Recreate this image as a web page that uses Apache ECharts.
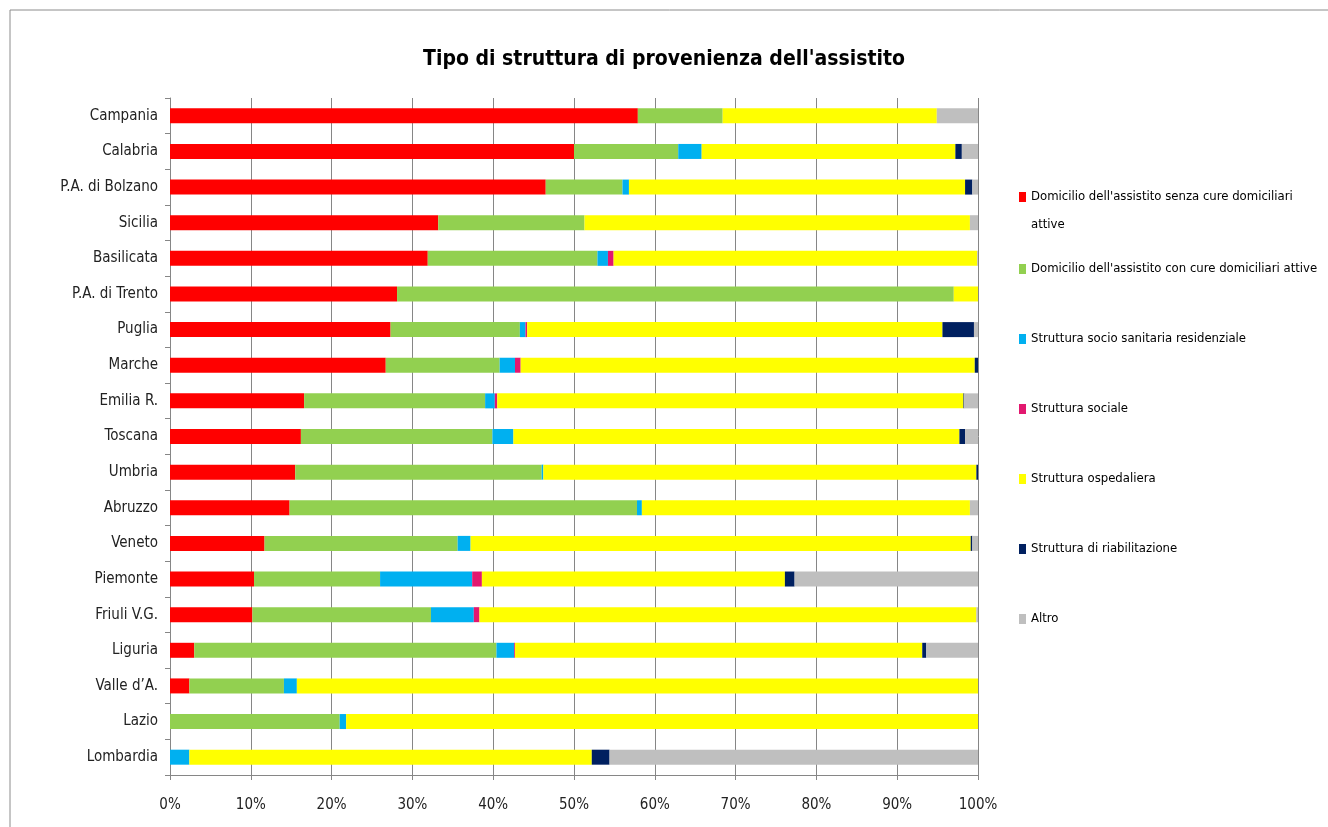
<!DOCTYPE html>
<html>
<head>
<meta charset="utf-8">
<script src="https://cdn.jsdelivr.net/npm/echarts@6/dist/echarts.min.js"></script>
<style>html,body{margin:0;padding:0;background:#fff}#c{width:1328px;height:827px}</style>
</head>
<body>
<div id="c"></div>
<script>
const categories = ['Campania','Calabria','P.A. di Bolzano','Sicilia','Basilicata','P.A. di Trento','Puglia','Marche','Emilia R.','Toscana','Umbria','Abruzzo','Veneto','Piemonte','Friuli V.G.','Liguria','Valle d\u2019A.','Lazio','Lombardia'];
const seriesNames = [
  "Domicilio dell'assistito senza cure domiciliari attive",
  "Domicilio dell'assistito con cure domiciliari attive",
  "Struttura socio sanitaria residenziale",
  "Struttura sociale",
  "Struttura ospedaliera",
  "Struttura di riabilitazione",
  "Altro"
];
const domSenza     = [57.9,50.0,46.5,33.2,31.9,28.1,27.3,26.7,16.6,16.2,15.5,14.8,11.7,10.4,10.2,3.0,2.4,0,0];
const domCon       = [10.5,12.9,9.5,18.1,21.0,68.9,16.0,14.1,22.4,23.7,30.5,43.0,23.9,15.6,22.1,37.4,11.7,21.0,0];
const socioSan     = [0,2.9,0.8,0,1.3,0,0.7,1.9,1.2,2.6,0.2,0.6,1.6,11.4,5.3,2.2,1.6,0.8,2.4];
const sociale      = [0,0,0,0,0.7,0,0.2,0.7,0.3,0,0,0,0,1.2,0.7,0.1,0,0,0];
const ospedaliera  = [26.5,31.4,41.6,47.7,45.0,3.0,51.4,56.2,57.7,55.2,53.6,40.6,61.9,37.5,61.5,50.4,84.3,78.2,49.8];
const riabilitaz   = [0,0.8,0.9,0,0,0,3.9,0.4,0.1,0.7,0.2,0,0.2,1.2,0,0.5,0,0,2.2];
const altro        = [5.1,2.0,0.7,1.0,0.1,0,0.5,0,1.7,1.6,0,1.0,0.7,22.7,0.2,6.4,0,0,45.6];
const xTicks = [0,10,20,30,40,50,60,70,80,90,100];

const values = [domSenza, domCon, socioSan, sociale, ospedaliera, riabilitaz, altro];
const colors = ['#FF0000','#92D050','#00B0F0','#E2186F','#FFFF00','#002060','#BFBFBF'];
const FONT = "'Liberation Sans Narrow','DejaVu Sans Condensed',sans-serif";

const chart = echarts.init(document.getElementById('c'));
chart.setOption({
  animation: false,
  backgroundColor: '#fff',
  graphic: [{type:'rect', shape:{x:10,y:10,width:1340,height:840}, style:{fill:'none', stroke:'#8c8c8c', lineWidth:1}, silent:true}],
  title: {
    text: "Tipo di struttura di provenienza dell'assistito",
    left: 'center', top: 44,
    textStyle: {fontFamily: FONT, fontSize: 21, fontWeight: 'bold', color: '#000'}
  },
  legend: [{
    orient: 'vertical', left: 1019, top: 155, padding: 0,
    itemWidth: 7, itemHeight: 10, icon: 'rect',
    data: [seriesNames[0]],
    formatter: n => " \nDomicilio dell'assistito senza cure domiciliari\nattive",
    textStyle: {fontFamily: FONT, fontSize: 13, color: '#000', lineHeight: 28}
  },{
    orient: 'vertical', left: 1019, top: 259, padding: 0,
    itemWidth: 7, itemHeight: 10, icon: 'rect', itemGap: 50,
    data: seriesNames.slice(1),
    textStyle: {fontFamily: FONT, fontSize: 13, color: '#000', lineHeight: 20}
  }],
  grid: {left: 170, right: 350, top: 98, bottom: 52, containLabel: false},
  xAxis: {
    type: 'value', min: 0, max: 100, interval: 10,
    axisLine: {show: true, lineStyle: {color: '#868686'}},
    axisTick: {show: true, length: 5, lineStyle: {color: '#868686'}},
    splitLine: {show: true, lineStyle: {color: '#868686', width: 1}},
    axisLabel: {formatter: v => xTicks.includes(v) ? v + '%' : '', fontFamily: FONT, fontSize: 15, color: '#222', margin: 23}
  },
  yAxis: {
    type: 'category', inverse: true, data: categories,
    axisLine: {show: true, lineStyle: {color: '#868686'}},
    axisTick: {show: true, length: 5, lineStyle: {color: '#868686'}},
    axisLabel: {fontFamily: FONT, fontSize: 15, color: '#222', margin: 12}
  },
  series: values.map((arr, i) => ({
    name: seriesNames[i], type: 'bar', stack: 'tot', data: arr,
    barWidth: 15, itemStyle: {color: colors[i]}
  }))
});
</script>
</body>
</html>
